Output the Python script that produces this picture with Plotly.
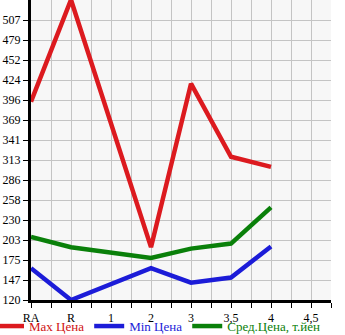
import plotly.graph_objects as go

categories = ["RA", "R", "1", "2", "3", "3,5", "4", "4,5"]
max_price = [394, 535, None, 193, 419, 318, 304, None]
min_price = [164, 120, None, 164, 144, 151, 194, None]
avg_price = [207, 193, None, 178, 191, 198, 248, None]
y_tick_labels = ["120", "147", "175", "203", "230", "258", "286", "313",
                 "341", "369", "396", "424", "452", "479", "507"]

x_idx = list(range(len(categories)))
step = (float(y_tick_labels[-1]) - float(y_tick_labels[0])) / (len(y_tick_labels) - 1)
y_ticks = [float(y_tick_labels[0]) + i * step for i in range(len(y_tick_labels))]

FONT = "Liberation Serif"
series = [
    ("Max Цена", max_price, "#dc1a1f", "#d01010"),
    ("Min Цена", min_price, "#1c1cd8", "#1c1cd8"),
    ("Сред.Цена, т.йен", avg_price, "#0a800a", "#0a800a"),
]

fig = go.Figure()
for name, vals, col, tcol in series:
    fig.add_trace(go.Scatter(
        x=x_idx, y=vals, mode="lines", connectgaps=True,
        name=f"<span style='color:{tcol}'>{name}</span>",
        line=dict(color=col, width=4.5),
        hoverinfo="skip",
    ))

fig.update_layout(
    width=345, height=335,
    margin=dict(l=31, r=14, t=0, b=35, autoexpand=False),
    paper_bgcolor="white", plot_bgcolor="#f7f7f7",
    font=dict(family=FONT, size=12, color="black"),
    showlegend=True,
    legend=dict(orientation="h", x=-0.14, y=-0.037, xanchor="left", yanchor="top",
                font=dict(family=FONT, size=13), itemwidth=30,
                tracegroupgap=0, bgcolor="rgba(0,0,0,0)"),
)
fig.update_xaxes(
    range=[0, 7.5], tickmode="array", tickvals=x_idx, ticktext=categories,
    showline=True, linecolor="black", linewidth=3,
    ticks="outside", ticklen=5, tickcolor="black", tickwidth=1,
    showgrid=True, gridcolor="#c4c4c4", gridwidth=1,
    minor=dict(dtick=0.5, tick0=0, ticks="outside", ticklen=5, tickcolor="black",
               showgrid=True, gridcolor="#c4c4c4", gridwidth=1),
    zeroline=False, fixedrange=True, tickfont=dict(size=12), automargin=False,
)
fig.update_yaxes(
    range=[y_ticks[0], y_ticks[0] + step * 15], tickmode="array",
    tickvals=y_ticks, ticktext=y_tick_labels,
    showline=True, linecolor="black", linewidth=3,
    ticks="outside", ticklen=5, tickcolor="black", tickwidth=1,
    showgrid=True, gridcolor="#c4c4c4", gridwidth=1,
    zeroline=False, fixedrange=True, tickfont=dict(size=12), automargin=False,
)

fig.write_html("out.html", config={"displayModeBar": False})
